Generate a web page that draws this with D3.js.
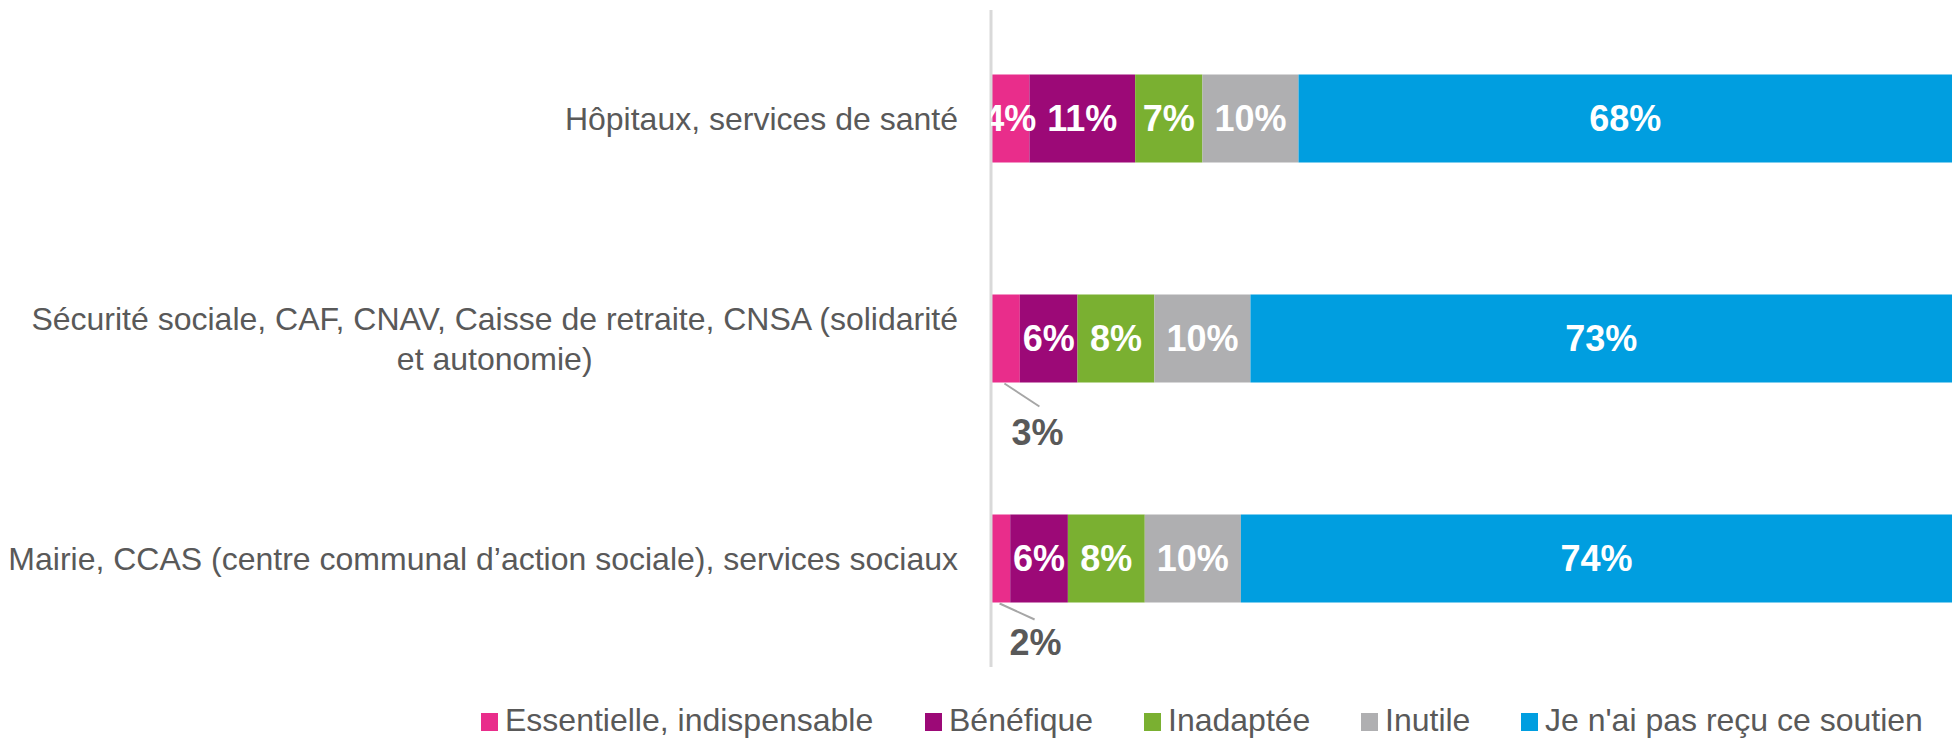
<!DOCTYPE html>
<html lang="fr">
<head>
<meta charset="utf-8">
<script src="https://cdn.jsdelivr.net/npm/d3@7"></script>
<style>
  html, body { margin: 0; padding: 0; background: #ffffff; }
  svg { display: block; }
  text { font-family: "Liberation Sans", Arial, Helvetica, sans-serif; }
</style>
</head>
<body>
<svg id="chart" width="1952" height="739"></svg>
<script>
// Organisations (one stacked bar each, top to bottom)
const categories = [
  ["Hôpitaux, services de santé"],
  ["Sécurité sociale, CAF, CNAV, Caisse de retraite, CNSA (solidarité", "et autonomie)"],
  ["Mairie, CCAS (centre communal d\u2019action sociale), services sociaux"]
];

// Answer categories, in stacking order
const seriesNames = [
  "Essentielle, indispensable",
  "Bénéfique",
  "Inadaptée",
  "Inutile",
  "Je n'ai pas reçu ce soutien"
];

// Percentages per organisation, one array per answer
const essentielle = [4, 3, 2];
const benefique   = [11, 6, 6];
const inadaptee   = [7, 8, 8];
const inutile     = [10, 10, 10];
const pasRecu     = [68, 73, 74];

const seriesValues = [essentielle, benefique, inadaptee, inutile, pasRecu];
const seriesColors = ["#E92D8B", "#9C0977", "#7AB031", "#AFAFB1", "#009EE0"];

// Small segments get their label outside the bar, with a leader line
const outsideThreshold = 4;

// ---- layout ----
const W = 1952, H = 739;
const plotLeft = 991, plotRight = 1952;
const svg = d3.select("#chart");

const x = d3.scaleLinear().domain([0, 100]).range([plotLeft, plotRight]);
const y = d3.scaleBand()
  .domain(d3.range(categories.length))
  .range([8.5, 668.5])
  .paddingInner(0.6)
  .paddingOuter(0.3);

// Build stacked table from the series arrays
const table = categories.map((c, i) => {
  const row = { idx: i };
  seriesNames.forEach((s, k) => { row[s] = seriesValues[k][i]; });
  return row;
});
const stacked = d3.stack().keys(seriesNames)(table);

svg.append("defs").append("clipPath").attr("id", "plotClip")
  .append("rect").attr("x", plotLeft).attr("y", 0)
  .attr("width", plotRight - plotLeft).attr("height", H);

// Bars
const layers = svg.append("g").selectAll("g.layer")
  .data(stacked).join("g")
  .attr("class", "layer")
  .attr("fill", (d, k) => seriesColors[k]);

layers.selectAll("rect")
  .data(d => d.map(p => ({ p, key: d.key })))
  .join("rect")
  .attr("x", d => x(d.p[0]))
  .attr("y", d => y(d.p.data.idx))
  .attr("width", d => x(d.p[1]) - x(d.p[0]))
  .attr("height", y.bandwidth());

// Vertical category axis line
svg.append("line")
  .attr("x1", plotLeft).attr("x2", plotLeft)
  .attr("y1", y.range()[0] + 1.5).attr("y2", y.range()[1] - 1.5)
  .attr("stroke", "#D9D9D9").attr("stroke-width", 3);

// Labels inside segments
const inside = [];
const outside = [];
stacked.forEach((layer, k) => {
  layer.forEach(p => {
    const v = p[1] - p[0];
    const item = { v, k, p, row: p.data.idx };
    if (k === 0 && v < outsideThreshold) outside.push(item); else inside.push(item);
  });
});

svg.append("g").attr("clip-path", "url(#plotClip)")
  .selectAll("text")
  .data(inside).join("text")
  .attr("x", d => (x(d.p[0]) + x(d.p[1])) / 2)
  .attr("y", d => y(d.row) + y.bandwidth() / 2)
  .attr("dy", "0.36em")
  .attr("text-anchor", "middle")
  .attr("fill", "#ffffff")
  .attr("font-weight", "bold")
  .attr("font-size", 36)
  .text(d => d.v + "%");

// Labels for narrow segments, placed under the bar with a leader
const leaderOffsets = { 1: { lx: 35, ly: 23, tx: 32, ty: 50 }, 2: { lx: 35, ly: 16, tx: 35, ty: 40 } };
const outG = svg.append("g");
outside.forEach(d => {
  const o = leaderOffsets[d.row] || { lx: 35, ly: 20, tx: 33, ty: 45 };
  const cx = (x(d.p[0]) + x(d.p[1])) / 2;
  const by = y(d.row) + y.bandwidth();
  outG.append("line")
    .attr("x1", cx - 1).attr("y1", by + 1)
    .attr("x2", cx - 1 + o.lx).attr("y2", by + 1 + o.ly)
    .attr("stroke", "#A6A6A6").attr("stroke-width", 2);
  outG.append("text")
    .attr("x", cx + o.tx).attr("y", by + o.ty)
    .attr("dy", "0.36em")
    .attr("text-anchor", "middle")
    .attr("fill", "#595959")
    .attr("font-weight", "bold")
    .attr("font-size", 36)
    .text(d.v + "%");
});

// Category labels: block right-aligned, lines centred inside the block
const labelRight = 958;
const lineGap = 40;
const catG = svg.append("g");
categories.forEach((lines, i) => {
  const cy = y(i) + y.bandwidth() / 2;
  const g = catG.append("g");
  const texts = lines.map((t, j) => g.append("text")
    .attr("font-size", 32)
    .attr("fill", "#595959")
    .attr("text-anchor", "middle")
    .attr("y", cy + (j - (lines.length - 1) / 2) * lineGap)
    .attr("dy", "0.36em")
    .text(t));
  const maxW = d3.max(texts, t => t.node().getComputedTextLength());
  texts.forEach(t => t.attr("x", labelRight - maxW / 2));
});

// Legend
const legendBaseline = 731;
const legendStarts = [481, 925, 1144, 1361, 1521];
const legG = svg.append("g");
seriesNames.forEach((name, k) => {
  const gx = legendStarts[k];
  legG.append("rect")
    .attr("x", gx).attr("y", legendBaseline - 18)
    .attr("width", 17).attr("height", 18)
    .attr("fill", seriesColors[k]);
  legG.append("text")
    .attr("x", gx + 24).attr("y", legendBaseline)
    .attr("font-size", 32)
    .attr("fill", "#595959")
    .text(name);
});
</script>
</body>
</html>
